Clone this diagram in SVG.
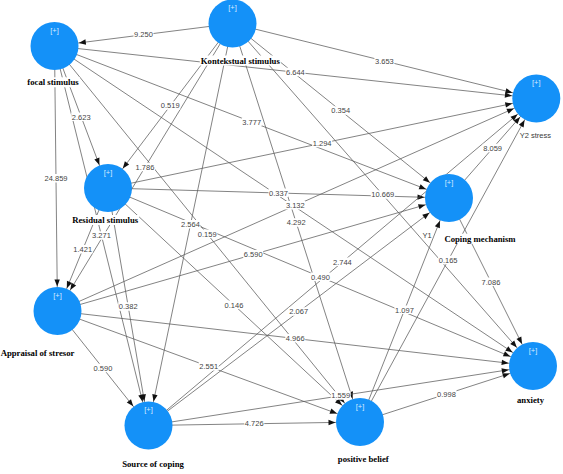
<svg xmlns="http://www.w3.org/2000/svg" width="563" height="474" viewBox="0 0 563 474">
<defs>
<style>
.e{stroke:#5a5a5a;stroke-width:0.75;fill:none;marker-end:url(#ah)}
.lb rect{fill:#fff}
.lb text{font-family:"Liberation Sans","DejaVu Sans",sans-serif;font-size:7.5px;fill:#444;text-anchor:middle}
.n circle{fill:#1491f8}
.n .bg{fill:#fff}
.pl{font-family:"Liberation Sans",sans-serif;font-size:7.5px;fill:#d6ebff;text-anchor:middle}
.nl{font-family:"Liberation Serif","Times New Roman",serif;font-weight:bold;font-size:8.7px;fill:#000;text-anchor:middle}
.sl{font-family:"Liberation Sans",sans-serif;font-size:7.5px;fill:#3a3a3a;text-anchor:middle}
</style>
<marker id="ah" markerUnits="userSpaceOnUse" orient="auto" overflow="visible" markerWidth="1" markerHeight="1" refX="0" refY="0">
<path d="M-31.5,-2.7 L-24.5,0 L-31.5,2.7 z" fill="#111"/>
</marker>
</defs>
<rect width="563" height="474" fill="#fff"/>
<g id="connectors">
<line class="e" x1="232.5" y1="23.5" x2="54.5" y2="46"/>
<line class="e" x1="232.5" y1="23.5" x2="536.3" y2="98.5"/>
<line class="e" x1="232.5" y1="23.5" x2="108" y2="188"/>
<line class="e" x1="232.5" y1="23.5" x2="449" y2="198"/>
<line class="e" x1="232.5" y1="23.5" x2="57.5" y2="311"/>
<line class="e" x1="232.5" y1="23.5" x2="148.5" y2="425.5"/>
<line class="e" x1="232.5" y1="23.5" x2="360" y2="422"/>
<line class="e" x1="232.5" y1="23.5" x2="533" y2="366"/>
<line class="e" x1="54.5" y1="46" x2="108" y2="188"/>
<line class="e" x1="54.5" y1="46" x2="57.5" y2="311"/>
<line class="e" x1="54.5" y1="46" x2="148.5" y2="425.5"/>
<line class="e" x1="54.5" y1="46" x2="360" y2="422"/>
<line class="e" x1="54.5" y1="46" x2="449" y2="198"/>
<line class="e" x1="54.5" y1="46" x2="536.3" y2="98.5"/>
<line class="e" x1="54.5" y1="46" x2="533" y2="366"/>
<line class="e" x1="108" y1="188" x2="57.5" y2="311"/>
<line class="e" x1="108" y1="188" x2="148.5" y2="425.5"/>
<line class="e" x1="108" y1="188" x2="360" y2="422"/>
<line class="e" x1="108" y1="188" x2="449" y2="198"/>
<line class="e" x1="108" y1="188" x2="536.3" y2="98.5"/>
<line class="e" x1="108" y1="188" x2="533" y2="366"/>
<line class="e" x1="57.5" y1="311" x2="148.5" y2="425.5"/>
<line class="e" x1="57.5" y1="311" x2="360" y2="422"/>
<line class="e" x1="57.5" y1="311" x2="449" y2="198"/>
<line class="e" x1="57.5" y1="311" x2="536.3" y2="98.5"/>
<line class="e" x1="57.5" y1="311" x2="533" y2="366"/>
<line class="e" x1="148.5" y1="425.5" x2="360" y2="422"/>
<line class="e" x1="148.5" y1="425.5" x2="449" y2="198"/>
<line class="e" x1="148.5" y1="425.5" x2="536.3" y2="98.5"/>
<line class="e" x1="148.5" y1="425.5" x2="533" y2="366"/>
<line class="e" x1="360" y1="422" x2="449" y2="198"/>
<line class="e" x1="360" y1="422" x2="536.3" y2="98.5"/>
<line class="e" x1="360" y1="422" x2="533" y2="366"/>
<line class="e" x1="449" y1="198" x2="536.3" y2="98.5"/>
<line class="e" x1="449" y1="198" x2="533" y2="366"/>
<g class="lb">
<g transform="translate(143.5,34.75)"><rect x="-10" y="-4.5" width="20" height="8.5"/><text y="2.7">9.250</text></g>
<g transform="translate(384.4,61)"><rect x="-10" y="-4.5" width="20" height="8.5"/><text y="2.7">3.653</text></g>
<g transform="translate(170.25,105.75)"><rect x="-10" y="-4.5" width="20" height="8.5"/><text y="2.7">0.519</text></g>
<g transform="translate(340.75,110.75)"><rect x="-10" y="-4.5" width="20" height="8.5"/><text y="2.7">0.354</text></g>
<g transform="translate(145,167.25)"><rect x="-10" y="-4.5" width="20" height="8.5"/><text y="2.7">1.786</text></g>
<g transform="translate(190.5,224.5)"><rect x="-10" y="-4.5" width="20" height="8.5"/><text y="2.7">2.564</text></g>
<g transform="translate(296.25,222.75)"><rect x="-10" y="-4.5" width="20" height="8.5"/><text y="2.7">4.292</text></g>
<g transform="translate(382.75,194.75)"><rect x="-12" y="-4.5" width="24" height="8.5"/><text y="2.7">10.669</text></g>
<g transform="translate(81.25,117)"><rect x="-10" y="-4.5" width="20" height="8.5"/><text y="2.7">2.623</text></g>
<g transform="translate(56,178.5)"><rect x="-12" y="-4.5" width="24" height="8.5"/><text y="2.7">24.859</text></g>
<g transform="translate(101.5,235.75)"><rect x="-10" y="-4.5" width="20" height="8.5"/><text y="2.7">3.271</text></g>
<g transform="translate(207.25,234)"><rect x="-10" y="-4.5" width="20" height="8.5"/><text y="2.7">0.159</text></g>
<g transform="translate(251.75,122)"><rect x="-10" y="-4.5" width="20" height="8.5"/><text y="2.7">3.777</text></g>
<g transform="translate(295.4,72.25)"><rect x="-10" y="-4.5" width="20" height="8.5"/><text y="2.7">6.644</text></g>
<g transform="translate(295.3,205.5)"><rect x="-10" y="-4.5" width="20" height="8.5"/><text y="2.7">3.132</text></g>
<g transform="translate(82.75,249.5)"><rect x="-10" y="-4.5" width="20" height="8.5"/><text y="2.7">1.421</text></g>
<g transform="translate(128.25,306.75)"><rect x="-10" y="-4.5" width="20" height="8.5"/><text y="2.7">0.382</text></g>
<g transform="translate(234,305)"><rect x="-10" y="-4.5" width="20" height="8.5"/><text y="2.7">0.146</text></g>
<g transform="translate(278.5,193)"><rect x="-10" y="-4.5" width="20" height="8.5"/><text y="2.7">0.337</text></g>
<g transform="translate(322.15,143.25)"><rect x="-10" y="-4.5" width="20" height="8.5"/><text y="2.7">1.294</text></g>
<g transform="translate(320.5,277)"><rect x="-10" y="-4.5" width="20" height="8.5"/><text y="2.7">0.490</text></g>
<g transform="translate(103,368.25)"><rect x="-10" y="-4.5" width="20" height="8.5"/><text y="2.7">0.590</text></g>
<g transform="translate(208.75,366.5)"><rect x="-10" y="-4.5" width="20" height="8.5"/><text y="2.7">2.551</text></g>
<g transform="translate(253.25,254.5)"><rect x="-10" y="-4.5" width="20" height="8.5"/><text y="2.7">6.590</text></g>
<g transform="translate(295.25,338.5)"><rect x="-10" y="-4.5" width="20" height="8.5"/><text y="2.7">4.966</text></g>
<g transform="translate(254.25,423.75)"><rect x="-10" y="-4.5" width="20" height="8.5"/><text y="2.7">4.726</text></g>
<g transform="translate(298.75,311.75)"><rect x="-10" y="-4.5" width="20" height="8.5"/><text y="2.7">2.067</text></g>
<g transform="translate(342.4,262)"><rect x="-10" y="-4.5" width="20" height="8.5"/><text y="2.7">2.744</text></g>
<g transform="translate(340.75,395.75)"><rect x="-10" y="-4.5" width="20" height="8.5"/><text y="2.7">1.559</text></g>
<g transform="translate(404.5,310)"><rect x="-10" y="-4.5" width="20" height="8.5"/><text y="2.7">1.097</text></g>
<g transform="translate(448.15,260.25)"><rect x="-10" y="-4.5" width="20" height="8.5"/><text y="2.7">0.165</text></g>
<g transform="translate(446.5,394)"><rect x="-10" y="-4.5" width="20" height="8.5"/><text y="2.7">0.998</text></g>
<g transform="translate(492.65,148.25)"><rect x="-10" y="-4.5" width="20" height="8.5"/><text y="2.7">8.059</text></g>
<g transform="translate(491,282)"><rect x="-10" y="-4.5" width="20" height="8.5"/><text y="2.7">7.086</text></g>
</g>
</g>
<g id="kontekstual-stimulus" class="n">
<rect class="bg" x="199.8" y="55.5" width="81" height="10"/>
<text class="nl" x="240.3" y="63.5">Kontekstual stimulus</text>
<circle cx="232.5" cy="23.5" r="24"/>
<text class="pl" x="232.5" y="10">[+]</text>
</g>
<g id="focal-stimulus" class="n">
<rect class="bg" x="26" y="77.3" width="54" height="10"/>
<text class="nl" x="53" y="85.3">focal stimulus</text>
<circle cx="54.5" cy="46" r="24"/>
<text class="pl" x="54.5" y="32.5">[+]</text>
</g>
<g id="y2-stress" class="n">
<text class="sl" x="535.3" y="138">Y2 stress</text>
<circle cx="536.3" cy="98.5" r="24"/>
<text class="pl" x="536.3" y="85">[+]</text>
</g>
<g id="residual-stimulus" class="n">
<rect class="bg" x="71.2" y="215" width="68" height="10"/>
<text class="nl" x="105.2" y="223">Residual stimulus</text>
<circle cx="108" cy="188" r="24"/>
<text class="pl" x="108" y="174.5">[+]</text>
</g>
<g id="coping-mechanism" class="n">
<text class="sl" x="427" y="237.5">Y1</text>
<rect class="bg" x="443" y="233.7" width="74" height="10"/>
<text class="nl" x="480" y="241.7">Coping mechanism</text>
<circle cx="449" cy="198" r="24"/>
<text class="pl" x="449" y="184.5">[+]</text>
</g>
<g id="appraisal-of-stresor" class="n">
<rect class="bg" x="-0.5" y="347.7" width="76" height="10"/>
<text class="nl" x="37.5" y="355.7">Appraisal of stresor</text>
<circle cx="57.5" cy="311" r="24"/>
<text class="pl" x="57.5" y="297.5">[+]</text>
</g>
<g id="source-of-coping" class="n">
<rect class="bg" x="121" y="459" width="64" height="10"/>
<text class="nl" x="153" y="467">Source of coping</text>
<circle cx="148.5" cy="425.5" r="24"/>
<text class="pl" x="148.5" y="412">[+]</text>
</g>
<g id="positive-belief" class="n">
<rect class="bg" x="336.8" y="454" width="53" height="10"/>
<text class="nl" x="363.3" y="462">positive belief</text>
<circle cx="360" cy="422" r="24"/>
<text class="pl" x="360" y="408.5">[+]</text>
</g>
<g id="anxiety" class="n">
<rect class="bg" x="515.5" y="394.5" width="30" height="10"/>
<text class="nl" x="530.5" y="402.5">anxiety</text>
<circle cx="533" cy="366" r="24"/>
<text class="pl" x="533" y="352.5">[+]</text>
</g>
</svg>
